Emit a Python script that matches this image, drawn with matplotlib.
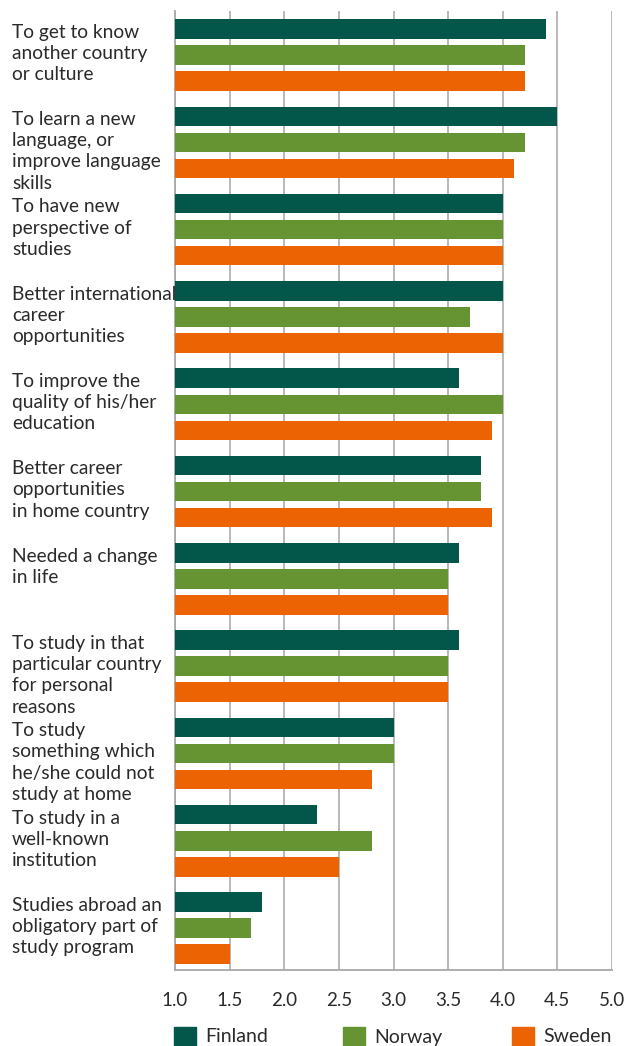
import numpy as np
import matplotlib
matplotlib.use("Agg")
import matplotlib.pyplot as plt
from matplotlib.patches import Rectangle

plt.rcParams['font.family'] = ['Lato', 'DejaVu Sans']

reasons = [
    "To get to know\nanother country\nor culture",
    "To learn a new\nlanguage, or\nimprove language\nskills",
    "To have new\nperspective of\nstudies",
    "Better international\ncareer\nopportunities",
    "To improve the\nquality of his/her\neducation",
    "Better career\nopportunities\nin home country",
    "Needed a change\nin life",
    "To study in that\nparticular country\nfor personal\nreasons",
    "To study\nsomething which\nhe/she could not\nstudy at home",
    "To study in a\nwell-known\ninstitution",
    "Studies abroad an\nobligatory part of\nstudy program",
]
finland = [4.4, 4.5, 4.0, 4.0, 3.6, 3.8, 3.6, 3.6, 3.0, 2.3, 1.8]
norway = [4.2, 4.2, 4.0, 3.7, 4.0, 3.8, 3.5, 3.5, 3.0, 2.8, 1.7]
sweden = [4.2, 4.1, 4.0, 4.0, 3.9, 3.9, 3.5, 3.5, 2.8, 2.5, 1.5]
countries = ["Finland", "Norway", "Sweden"]
colors = ["#03574a", "#669433", "#ec6304"]
xticks = [1.0, 1.5, 2.0, 2.5, 3.0, 3.5, 4.0, 4.5, 5.0]

fig = plt.figure(figsize=(6.26, 10.46), dpi=100)
ax = fig.add_axes([175 / 626, 1 - 970 / 1046, 437 / 626, 959 / 1046])

y = np.arange(len(reasons))
off = 0.298
h = 0.223
for k, (vals, col) in enumerate(zip([finland, norway, sweden], colors)):
    v = np.array(vals)
    ax.barh(y + (k - 1) * off, v - 1.0, left=1.0, height=h, color=col, zorder=3)

ax.set_xlim(1.0, 5.0)
ax.set_ylim(10.48, -0.504)
ax.set_xticks(xticks)
ax.set_xticklabels([f"{t:.1f}" for t in xticks], fontsize=13.5, color="#2a2a2a")
ax.tick_params(axis="x", length=0, pad=16)
ax.set_yticks([])
ax.grid(axis="x", color="#b3b3b3", linewidth=1.3, zorder=0)
for s in ["top", "right"]:
    ax.spines[s].set_visible(False)
for s in ["left", "bottom"]:
    ax.spines[s].set_color("#a8a8a8")
    ax.spines[s].set_linewidth(1.3)

for i, lab in enumerate(reasons):
    ax.text(-163 / 437 * 4.0 + 1.0, y[i] - off - 0.06, lab, ha="left", va="top",
            fontsize=13.8, color="#2a2a2a", linespacing=1.3, clip_on=False)

# legend
for i, (name, col) in enumerate(zip(countries, colors)):
    x0 = (174 + i * 169) / 626
    fig.add_artist(Rectangle((x0, 1 - 1049 / 1046), 22 / 626, 22 / 1046,
                             transform=fig.transFigure, color=col))
    fig.text(x0 + 31 / 626, 1 - 1037 / 1046, name, fontsize=14, color="#2a2a2a",
             va="center", ha="left")

fig.savefig("out.png", dpi=100)
